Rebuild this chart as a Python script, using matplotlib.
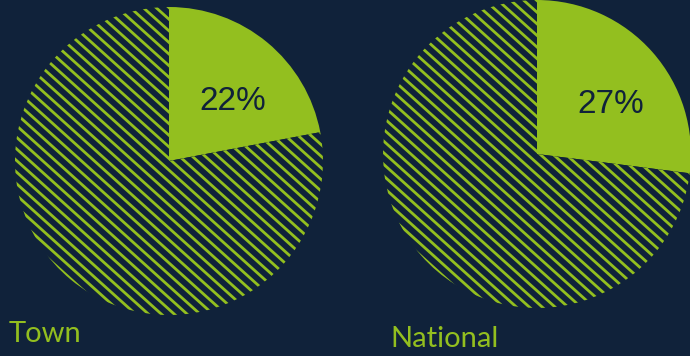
import numpy as np
import matplotlib
matplotlib.use("Agg")
import matplotlib.pyplot as plt
from matplotlib.collections import LineCollection

regions = ["Town", "National"]
shares = [22, 27]

navy = "#10223a"
green = "#93bf1f"

W, H = 690, 356
fig = plt.figure(figsize=(W / 100, H / 100), dpi=100, facecolor=navy)

# pie centre (x, y from top) and radius, in pixels
pie_boxes = [(169, 161, 154), (537, 154, 154)]
label_pos = [(9, 334), (390, 339)]


def hatch_wedge(ax, wedge, spacing=0.056, angle=42):
    # diagonal stripes running top-left to bottom-right, clipped to the wedge
    t = np.deg2rad(angle)
    d = np.array([np.cos(t), -np.sin(t)])
    n = np.array([np.sin(t), np.cos(t)])
    segs = []
    for c in np.arange(-1.5, 1.5, spacing):
        p = n * c
        segs.append([p - 2 * d, p + 2 * d])
    lc = LineCollection(segs, colors=green, linewidths=2.0)
    ax.add_collection(lc)
    lc.set_clip_path(wedge)


for name, val, (cx, cy, r), (lx, ly) in zip(regions, shares, pie_boxes, label_pos):
    ax = fig.add_axes([(cx - r) / W, (H - cy - r) / H, 2 * r / W, 2 * r / H])
    ax.set_facecolor(navy)
    wedges, texts, autotexts = ax.pie(
        [val, 100 - val], startangle=90, counterclock=False,
        colors=[green, navy], radius=1,
        autopct=lambda p: f"{p:.0f}%" if p < 50 else "",
        pctdistance=0.6, wedgeprops=dict(linewidth=0),
        textprops=dict(color=navy, fontsize=24, family="Liberation Sans"))
    hatch_wedge(ax, wedges[1])
    # nudge the percentage a little lower inside the wedge
    for a in autotexts:
        x, y = a.get_position()
        a.set_position((x + 0.03, y - 0.075))
    ax.set_xlim(-1, 1)
    ax.set_ylim(-1, 1)
    ax.set_aspect("equal")
    ax.axis("off")

    fig.text(lx / W, 1 - ly / H, name, color=green, fontsize=21,
             family="Lato", ha="left", va="center")

fig.savefig("out.png", dpi=100, facecolor=navy)
